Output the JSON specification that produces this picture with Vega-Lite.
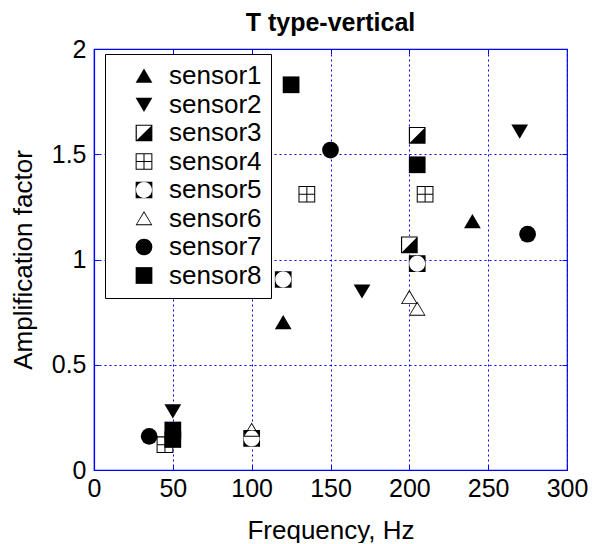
{
  "$schema": "https://vega.github.io/schema/vega-lite/v6.json",
  "width": 473,
  "height": 421,
  "padding": {"left": 10, "top": 11, "right": 5, "bottom": 0},
  "background": "white",
  "title": {"text": "T type-vertical", "font": "Liberation Sans", "fontSize": 25, "fontWeight": "bold", "color": "black", "anchor": "middle", "offset": 1},
  "data": {"values": [
    {"sensor": "sensor1", "f": 120, "a": 0.70},
    {"sensor": "sensor1", "f": 240, "a": 1.18},
    {"sensor": "sensor2", "f": 50, "a": 0.28},
    {"sensor": "sensor2", "f": 170, "a": 0.85},
    {"sensor": "sensor2", "f": 270, "a": 1.61},
    {"sensor": "sensor3", "f": 200, "a": 1.07},
    {"sensor": "sensor3", "f": 205, "a": 1.59},
    {"sensor": "sensor4", "f": 45, "a": 0.12},
    {"sensor": "sensor4", "f": 135, "a": 1.31},
    {"sensor": "sensor4", "f": 210, "a": 1.31},
    {"sensor": "sensor5", "f": 100, "a": 0.15},
    {"sensor": "sensor5", "f": 120, "a": 0.905},
    {"sensor": "sensor5", "f": 205, "a": 0.98},
    {"sensor": "sensor6", "f": 100, "a": 0.19},
    {"sensor": "sensor6", "f": 200, "a": 0.82},
    {"sensor": "sensor6", "f": 205, "a": 0.765},
    {"sensor": "sensor7", "f": 35, "a": 0.16},
    {"sensor": "sensor7", "f": 150, "a": 1.52},
    {"sensor": "sensor7", "f": 275, "a": 1.12},
    {"sensor": "sensor8", "f": 50, "a": 0.19},
    {"sensor": "sensor8", "f": 50, "a": 0.145},
    {"sensor": "sensor8", "f": 125, "a": 1.83},
    {"sensor": "sensor8", "f": 205, "a": 1.45}
  ]},
  "layer": [
    {
      "transform": [{"filter": "indexof(['sensor3','sensor4','sensor5','sensor6'], datum.sensor) >= 0"}],
      "mark": {"type": "point", "filled": true, "fill": "white", "fillOpacity": 1, "strokeWidth": 0, "size": 280},
      "encoding": {
        "x": {"field": "f", "type": "quantitative", "scale": {"domain": [0, 300], "nice": false},
          "axis": {"orient": "top", "title": null, "labels": false, "grid": false, "domain": false, "ticks": true, "tickSize": -5, "tickColor": "#0000ff", "values": [50, 100, 150, 200, 250]}},
        "y": {"field": "a", "type": "quantitative", "scale": {"domain": [0, 2], "nice": false},
          "axis": {"orient": "right", "title": null, "labels": false, "grid": false, "domain": false, "ticks": true, "tickSize": -5, "tickColor": "#0000ff", "values": [0.5, 1, 1.5]}},
        "shape": {"condition": {"test": "datum.sensor === 'sensor6'", "value": "M0,-0.9L1,0.8L-1,0.8Z"}, "value": "square"}
      }
    },
    {
      "mark": {"type": "point", "filled": true, "color": "black", "fillOpacity": 1, "strokeWidth": 0, "size": 280},
      "encoding": {
        "x": {"field": "f", "type": "quantitative", "scale": {"domain": [0, 300], "nice": false},
          "axis": {"title": "Frequency, Hz", "values": [0, 50, 100, 150, 200, 250, 300], "grid": true, "labelPadding": 11, "titlePadding": 16, "titleFontSize": 26}},
        "y": {"field": "a", "type": "quantitative", "scale": {"domain": [0, 2], "nice": false},
          "axis": {"title": "Amplification factor", "values": [0, 0.5, 1, 1.5, 2], "grid": true, "format": ".2~f", "labelPadding": 13, "titlePadding": 15, "titleFontSize": 26}},
        "shape": {"field": "sensor", "type": "nominal",
          "scale": {
            "domain": ["sensor1", "sensor2", "sensor3", "sensor4", "sensor5", "sensor6", "sensor7", "sensor8"],
            "range": [
              "M0,-0.9L1,0.8L-1,0.8Z",
              "M0,0.9L-1,-0.8L1,-0.8Z",
              "M-1,-1H1V1H-1Z M-0.86,-0.86V0.86H0.86V-0.86Z M1,-1L1,1L-1,1Z",
              "M-1,-1H1V1H-1Z M-0.88,-0.88V-0.06H-0.06V-0.88Z M0.06,-0.88V-0.06H0.88V-0.88Z M-0.88,0.06V0.88H-0.06V0.06Z M0.06,0.06V0.88H0.88V0.06Z",
              "M-1,-1H1V1H-1Z M0,-0.95A0.95,0.95 0 1 0 0,0.95A0.95,0.95 0 1 0 0,-0.95Z",
              "M0,-0.9L1,0.8L-1,0.8Z M0,-0.68L-0.84,0.7L0.84,0.7Z",
              "circle",
              "square"
            ]
          },
          "legend": {
            "title": null, "orient": "none", "legendX": 11, "legendY": 5,
            "padding": 9, "strokeColor": "black", "fillColor": "white",
            "labelFont": "Liberation Sans", "labelFontSize": 26, "labelColor": "black",
            "symbolSize": 280, "symbolFillColor": "black", "symbolStrokeWidth": 0,
            "symbolOffset": 17, "labelOffset": 12, "rowPadding": 2.5,
            "encode": {"legend": {"update": {"strokeWidth": {"value": 2}}}}
          }
        }
      }
    }
  ],
  "resolve": {"axis": {"x": "independent", "y": "independent"}},
  "config": {
    "font": "Liberation Sans",
    "view": {"stroke": "#0000ff", "strokeWidth": 1.2},
    "axis": {
      "labelFont": "Liberation Sans", "labelFontSize": 25, "labelColor": "black",
      "titleFont": "Liberation Sans", "titleFontSize": 26, "titleFontWeight": "normal", "titleColor": "black",
      "domainColor": "#0000ff", "domainWidth": 1.2,
      "grid": true, "gridColor": "#0000ff", "gridDash": [2, 3], "gridWidth": 1, "gridOpacity": 1,
      "ticks": true, "tickSize": -5, "tickColor": "#0000ff", "labelFlush": false, "labelOverlap": false
    }
  }
}
